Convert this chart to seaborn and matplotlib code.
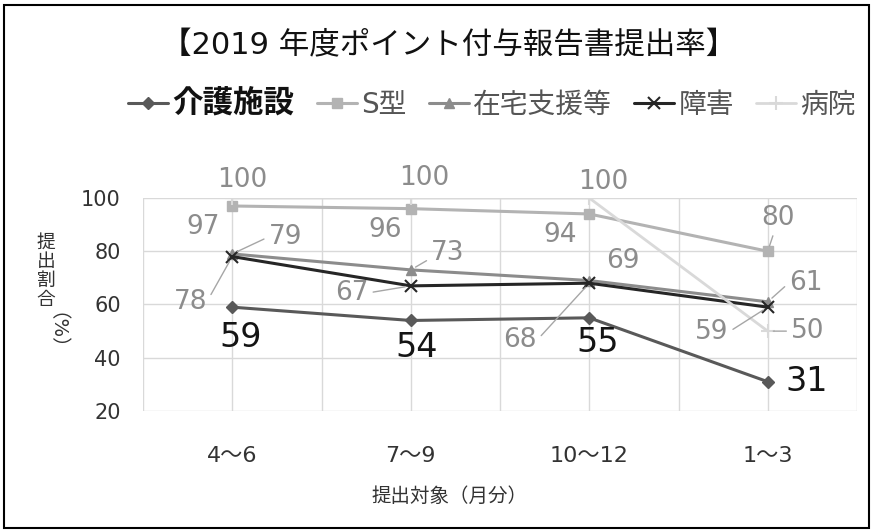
import matplotlib
matplotlib.use("Agg")
import matplotlib.pyplot as plt
import seaborn as sns
import pandas as pd
from matplotlib.patches import Rectangle

# データ
categories = ["4～6", "7～9", "10～12", "1～3"]
series_names = ["介護施設", "S型", "在宅支援等", "障害", "病院"]
kaigo = [59, 54, 55, 31]
s_gata = [97, 96, 94, 80]
zaitaku = [79, 73, 69, 61]
shogai = [78, 67, 68, 59]
byoin = [100, 100, 100, 50]

values = [kaigo, s_gata, zaitaku, shogai, byoin]

rows = []
for name, vals in zip(series_names, values):
    for i, v in enumerate(vals):
        rows.append({"系列": name, "pos": i, "割合": v})
df = pd.DataFrame(rows)

sns.set_theme(style="white")
plt.rcParams["font.family"] = ["DejaVu Sans", "Noto Sans CJK JP"]

# 系列ごとのスタイル
styles = {
    "介護施設": dict(color="#595959", marker="D", ms=6, lw=2.2, mew=1),
    "S型": dict(color="#b3b3b3", marker="s", ms=7, lw=2.2, mew=1),
    "在宅支援等": dict(color="#8c8c8c", marker="^", ms=7, lw=2.2, mew=1),
    "障害": dict(color="#262626", marker="x", ms=9, lw=2.2, mew=1.5),
    "病院": dict(color="#d9d9d9", marker="+", ms=10, lw=2.0, mew=1.5),
}

# ラベル位置 (ピクセルオフセット) と引き出し線の付け根
label_offsets = {
    "介護施設": [(8, -30), (6, -27), (8, -25), (39, 0)],
    "S型": [(-29, -21), (-26, -21), (-29, -21), (10, 33)],
    "在宅支援等": [(53, 17), (37, 17), (34, 20), (38, 19)],
    "障害": [(-42, -45), (-59, -7), (-69, -57), (-56, -25)],
    "病院": [(10, 18), (14, 20), (14, 16), (40, 0)],
}
leaders = {
    "在宅支援等": {0: (0, 0.5), 1: (0, 0.3), 3: (0, 0.5)},
    "障害": {0: (1, 0.5), 1: (1, 0.5), 2: (1, 0.5), 3: (1, 0.5)},
    "S型": {3: (0.4, 0)},
    "病院": {3: (0, 0.5)},
}

fig = plt.figure(figsize=(8.73, 5.31), dpi=100)
ax = fig.add_axes([143 / 873, 1 - 411 / 531, (857 - 143) / 873, (411 - 198) / 531])

handles = []
for name in series_names:
    st = styles[name]
    sub = df[df["系列"] == name]
    sns.lineplot(data=sub, x="pos", y="割合", ax=ax, color=st["color"],
                 marker=st["marker"], markersize=st["ms"], linewidth=st["lw"],
                 markeredgewidth=st["mew"], markeredgecolor=st["color"],
                 label=name, legend=False)
    handles.append(ax.lines[-1])

    for i, v in enumerate(sub["割合"]):
        dx, dy = label_offsets[name][i]
        big = name == "介護施設"
        arrow = None
        rel = leaders.get(name, {}).get(i)
        if rel is not None:
            arrow = dict(arrowstyle="-", color="#a6a6a6", lw=1.0, shrinkA=1, shrinkB=4,
                         relpos=rel)
        ax.annotate(str(v), xy=(i, v), xytext=(dx, dy), textcoords="offset pixels",
                    ha="center", va="center",
                    fontsize=24 if big else 19,
                    color="#141414" if big else "#8c8c8c",
                    arrowprops=arrow, annotation_clip=False)

ax.set_xlim(-0.5, 3.5)
ax.set_ylim(20, 100)
ax.set_yticks([20, 40, 60, 80, 100])
ax.set_xticks(range(len(categories)))
ax.set_xticklabels(categories)
ax.set_xticks([-0.5, 0.5, 1.5, 2.5, 3.5], minor=True)
ax.grid(True, which="both", color="#d9d9d9", linewidth=1)
for sp in ax.spines.values():
    sp.set_visible(False)
ax.tick_params(axis="x", which="both", length=0, pad=25, labelsize=16, labelcolor="#333333")
ax.tick_params(axis="y", length=0, pad=16, labelsize=15, labelcolor="#333333")
ax.set_xlabel("")
ax.set_ylabel("")

# 軸タイトル
fig.text(449 / 873, 1 - 496 / 531, "提出対象（月分）", ha="center", va="center",
         fontsize=14, color="#333333")
for k, ch in enumerate("提出割合"):
    fig.text(46 / 873, 1 - (242 + 19 * k) / 531, ch, ha="center", va="center",
             fontsize=13.5, color="#333333")
fig.text(46 / 873, 1 - 341 / 531, "（%）", ha="center", va="center",
         fontsize=14, color="#333333", rotation=-90)

# タイトル
fig.text(449 / 873, 1 - 46 / 531, "【2019 年度ポイント付与報告書提出率】", ha="center", va="center",
         fontsize=22, color="#111111")

# 凡例
leg = fig.legend(handles, series_names, loc="center", bbox_to_anchor=(492 / 873, 1 - 104 / 531),
                 ncol=5, frameon=False, fontsize=20, handlelength=1.45, columnspacing=0.8,
                 handletextpad=0.15)
for t in leg.get_texts():
    t.set_color("#555555")
leg.get_texts()[0].set_fontweight("bold")
leg.get_texts()[0].set_fontsize(22)
leg.get_texts()[0].set_color("#111111")

# 外枠
fig.patches.append(Rectangle((4 / 873, 3 / 531), 865 / 873, 523 / 531, transform=fig.transFigure,
                             fill=False, edgecolor="black", linewidth=1.5))

fig.savefig("out.png", dpi=100)
